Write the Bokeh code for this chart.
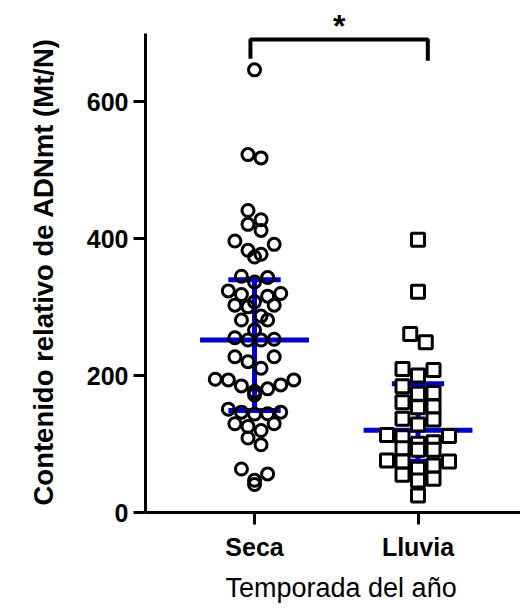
from bokeh.plotting import figure
from bokeh.models import Range1d, FixedTicker, Title
from bokeh.core.properties import value
from bokeh.embed import file_html
from bokeh.resources import INLINE

# ---------------- data ----------------
categories = ["Seca", "Lluvia"]
seca = [646.6, 522.8, 518.0, 441.2, 427.7, 420.9, 412.1, 396.5, 391.7, 383.0,
        377.2, 373.2, 345.1, 343.2, 336.8, 323.7, 319.9, 318.5, 316.0, 307.7,
        302.9, 302.9, 300.4, 286.9, 281.1, 281.1, 266.5, 255.3, 253.0, 251.9,
        251.9, 227.6, 227.6, 220.3, 210.7, 194.7, 193.7, 193.7, 186.4, 184.9,
        180.6, 176.6, 171.8, 151.0, 146.6, 146.6, 144.2, 143.7, 129.6, 129.6,
        125.7, 119.8, 108.8, 99.0, 63.6, 56.4, 47.0, 40.8]
lluvia = [398.5, 322.6, 260.9, 248.6, 209.8, 208.3, 200.0, 184.4, 174.7, 173.3,
          161.0, 155.0, 153.7, 136.8, 135.8, 128.5, 113.1, 111.7, 109.9, 102.6,
          100.3, 93.9, 91.5, 91.5, 75.9, 74.5, 74.5, 68.6, 63.8, 55.0, 49.2,
          46.7, 24.8]
medians = [252.0, 120.0]
q1 = [149.0, 75.0]
q3 = [340.0, 188.0]
y_ticks = [0, 200, 400, 600]
significance = "*"
x_title = "Temporada del año"
y_title = "Contenido relativo de ADNmt (Mt/N)"

FONT = "Liberation Sans"
BLUE = "#0000C8"


def swarm(vals, center, step, h):
    order = sorted(vals, reverse=True)
    rows = []
    for v in order:
        if rows and rows[-1][0] - v <= h:
            rows[-1].append(v)
        else:
            rows.append([v])
    xs, ys = [], []
    for row in rows:
        n = len(row)
        offs = [(i - (n - 1) / 2) for i in range(n)]
        idx = []
        lo, hi = 0, n - 1
        t = 0
        while lo <= hi:
            if t % 2 == 0:
                idx.append(lo); lo += 1
            else:
                idx.append(hi); hi -= 1
            t += 1
        for v, k in zip(row, idx):
            xs.append(center + offs[k] * step)
            ys.append(v)
    return xs, ys


p = figure(width=520, height=609, output_backend="svg", toolbar_location=None,
           x_range=Range1d(-0.667, 1.627), y_range=Range1d(0, 745),
           min_border_left=145, min_border_right=0, min_border_top=2,
           min_border_bottom=97)
p.outline_line_color = None
p.xgrid.visible = False
p.ygrid.visible = False
p.background_fill_color = "white"
p.border_fill_color = "white"

# median + IQR
for i, _ in enumerate(categories):
    p.line([i - 0.333, i + 0.333], [medians[i], medians[i]], line_color=BLUE, line_width=5)
    p.line([i, i], [q1[i], q3[i]], line_color=BLUE, line_width=5)
    p.line([i - 0.16, i + 0.16], [q1[i], q1[i]], line_color=BLUE, line_width=5)
    p.line([i - 0.16, i + 0.16], [q3[i], q3[i]], line_color=BLUE, line_width=5)

sx, sy = swarm(seca, 0, 0.0801, 20)
lx, ly = swarm(lluvia, 1, 0.0948, 16)
p.scatter(sx, sy, marker="circle", size=12, line_color="black", line_width=3,
          fill_color=None)
p.scatter(lx, ly, marker="square", size=13, line_color="black", line_width=3,
          fill_color="white")

# significance bracket
bl, br = 0 - 0.025, 1 + 0.06
p.line([bl, bl, br, br], [663, 691, 691, 660], line_color="black", line_width=4)
p.text(x=[(bl + br) / 2], y=[711], text=[significance], text_font=value(FONT),
       text_font_size="32px", text_font_style="bold", text_align="center",
       text_baseline="middle", text_color="black")

# axes
xa = p.xaxis[0]
xa.ticker = FixedTicker(ticks=[0, 1])
xa.major_label_overrides = {0: categories[0], 1: categories[1]}
xa.major_label_text_font = FONT
xa.major_label_text_font_style = "bold"
xa.major_label_text_font_size = "25px"
xa.major_label_text_color = "black"
xa.major_label_standoff = 8
xa.axis_line_width = 3
xa.major_tick_line_width = 3
xa.major_tick_out = 12
xa.major_tick_in = 0
xa.minor_tick_line_color = None

ya = p.yaxis[0]
ya.ticker = FixedTicker(ticks=y_ticks)
ya.bounds = (0, 700)
ya.major_label_text_font = FONT
ya.major_label_text_font_style = "bold"
ya.major_label_text_font_size = "25px"
ya.major_label_text_color = "black"
ya.major_label_standoff = 5
ya.axis_line_width = 3
ya.major_tick_line_width = 3
ya.major_tick_out = 12
ya.major_tick_in = 0
ya.minor_tick_line_color = None

# axis titles (as side titles so they can be placed like the reference)
p.add_layout(Title(text=y_title, align="left", offset=7, standoff=49,
                   text_font=FONT, text_font_style="bold",
                   text_font_size="27.5px", text_color="black"), "left")
p.add_layout(Title(text=x_title, align="left", offset=80, standoff=14,
                   text_font=FONT, text_font_style="normal",
                   text_font_size="27px", text_color="black"), "below")

open("out.html", "w").write(file_html(p, INLINE))
